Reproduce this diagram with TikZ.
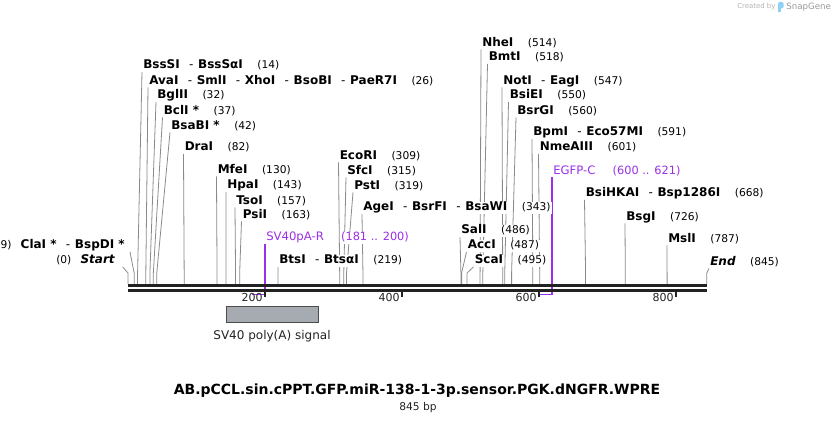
\documentclass[tikz,border=0pt]{standalone}
\usepackage{fontspec}
\setmainfont{DejaVu Sans}
\usetikzlibrary{positioning,backgrounds}
\definecolor{featpurple}{HTML}{9B30E6}
\definecolor{cutgray}{HTML}{8A8A8A}
\definecolor{bbdark}{HTML}{222222}
\definecolor{boxgray}{HTML}{A6AAB1}
\definecolor{sgblue}{HTML}{8FD1F3}
\newcommand{\enzsep}{\hspace{7pt}{\mdseries-}\hspace{3.5pt}}
% label name / cut position (bp)
\def\sitelist{bsssi/14,avai/26,bglii/32,bcli/37,bsabi/42,drai/82,mfei/130,hpai/143,tsoi/157,psii/163,btsi/219,ecori/309,sfci/315,psti/319,agei/343,sali/486,acci/487,scai/495,nhei/514,bmti/518,noti/547,bsiei/550,bsrgi/560,bpmi/591,nmeaiii/601,bsihkai/668,bsgi/726,msli/787,endlbl/845}

\begin{document}
\begin{tikzpicture}[x=0.75pt, y=-0.75pt,
  enz/.style={font=\fontsize{9}{10}\selectfont\bfseries, fill=white, inner xsep=0.75pt, inner ysep=0pt, text height=7pt, text depth=2pt, anchor=base west},
  num/.style={font=\fontsize{8}{10}\selectfont, fill=white, inner xsep=0.75pt, inner ysep=0pt, text height=7pt, text depth=2pt},
  featlbl/.style={enz, font=\fontsize{8.75}{10}\selectfont, text=featpurple},
  featnum/.style={num, font=\fontsize{8.5}{10}\selectfont, text=featpurple},
  cut/.style={draw=cutgray, line width=0.6pt},
  feat/.style={draw=featpurple, line width=1.2pt},
  backbone/.style={draw=bbdark, line width=2.2pt},
  tickmark/.style={draw=bbdark, line width=1.3pt},
  ticklbl/.style={font=\fontsize{8.25}{10}\selectfont, text=bbdark, inner sep=0pt, anchor=base east},
  polya/.style={draw=black!70, fill=boxgray, line width=0.75pt, minimum width=69pt, minimum height=12pt, inner sep=0pt}
]
\useasboundingbox (0,0) rectangle (835,423);

% cut sites just above the backbone
\foreach \p in {0,9,14,26,32,37,42,82,130,143,157,163,219,309,315,319,343,486,487,495,514,518,547,550,560,591,601,668,726,787,845}
  \coordinate (s\p) at ({128+0.685*\p},273);
\coordinate (bb) at (128,284);
\coordinate (f181) at ({128+0.685*181},294.5);
\coordinate (f600) at ({128+0.685*600},294.5);

% backbone and ruler
\draw[backbone] (128,285.5) -- (707,285.5);
\draw[backbone, line width=2pt] (128,290.3) -- (707,290.3);
\foreach \t in {200,400,600,800} {
  \draw[tickmark] ({128+0.685*\t},291) -- ({128+0.685*\t},297.5);
  \node[ticklbl] (t\t) at ({126+0.685*\t},301.5) {\t};
}

% enzymes
\node[enz] (bsssi) at (142,69) {BssSI\enzsep BssSαI};
\node[enz] (avai) at (148,84.5) {AvaI\enzsep SmlI\enzsep XhoI\enzsep BsoBI\enzsep PaeR7I};
\node[enz] (bglii) at (156,99) {BglII};
\node[enz] (bcli) at (162.5,114.5) {BclI *};
\node[enz] (bsabi) at (170,129.5) {BsaBI *};
\node[enz] (drai) at (183.5,151) {DraI};
\node[enz] (mfei) at (216.5,173.5) {MfeI};
\node[enz] (hpai) at (226,189) {HpaI};
\node[enz] (tsoi) at (235,204.5) {TsoI};
\node[enz] (psii) at (241.5,218.5) {PsiI};
\node[enz] (btsi) at (278,264) {BtsI\enzsep BtsαI};
\node[enz] (ecori) at (338.5,159.5) {EcoRI};
\node[enz] (sfci) at (346,174.5) {SfcI};
\node[enz] (psti) at (353,189.5) {PstI};
\node[enz] (agei) at (362,211) {AgeI\enzsep BsrFI\enzsep BsaWI};
\node[enz] (sali) at (460,234) {SalI};
\node[enz] (acci) at (466.5,249) {AccI};
\node[enz] (scai) at (473.5,264) {ScaI};
\node[enz] (nhei) at (481,46.5) {NheI};
\node[enz] (bmti) at (487.5,61) {BmtI};
\node[enz] (noti) at (502,84.5) {NotI\enzsep EagI};
\node[enz] (bsiei) at (508.5,99) {BsiEI};
\node[enz] (bsrgi) at (516,114.5) {BsrGI};
\node[enz] (bpmi) at (532,136) {BpmI\enzsep Eco57MI};
\node[enz] (nmeaiii) at (538.5,151) {NmeAIII};
\node[enz] (bsihkai) at (584.5,197) {BsiHKAI\enzsep Bsp1286I};
\node[enz] (bsgi) at (625,220.5) {BsgI};
\node[enz] (msli) at (667,242.5) {MslI};
\node[enz] (endlbl) at (709,265.5) {\itshape End};
\foreach \n/\v in \sitelist
  \node[num, right=9pt of \n] (\n-n) {(\v)};

\node[enz, anchor=base east] (startlbl) at (116,264) {\itshape Start};
\node[num, left=5pt of startlbl] (startlbl-n) {(0)};
\node[enz, anchor=base east] (clai) at (126,249) {ClaI *\enzsep BspDI *};
\node[num, left=5pt of clai] (clai-n) {(9)};

% features
\node[featlbl] (sv40par) at (265,241) {SV40pA-R};
\node[featnum, right=11pt of sv40par] (sv40par-n) {(181 .. 200)};
\node[featlbl] (egfpc) at (552,174.5) {EGFP-C};
\node[featnum, right=11pt of egfpc] (egfpc-n) {(600 .. 621)};

\node[polya] (polya) at (272,315) {};
\node[below=5pt of polya, inner sep=0pt, font=\fontsize{9}{11}\selectfont, text=bbdark] (polyalbl) {SV40 poly(A) signal};

\node[font=\fontsize{10.5}{12}\selectfont\bfseries] (title) at (417,391) {AB.pCCL.sin.cPPT.GFP.miR-138-1-3p.sensor.PGK.dNGFR.WPRE};
\node[font=\fontsize{8}{10}\selectfont, text=bbdark] (size) at (418,408) {845 bp};

% watermark
\node[anchor=west, inner sep=0pt, font=\fontsize{5.2}{6}\selectfont, text=black!30] (cby) at (737,7) {Created by};
\fill[sgblue, rounded corners=1pt] (778,2) rectangle (783.5,8.5);
\fill[sgblue] (778,6) rectangle (780.5,12.5);
\node[anchor=west, inner sep=0pt, font=\fontsize{6.5}{8}\selectfont, text=black!40] (sgname) at (786,7) {SnapGene};

\begin{scope}[on background layer]
  \draw[feat] (sv40par.south west) |- (f181);
  \draw[feat] (egfpc.south west) |- (f600);
  \foreach \n/\v in \sitelist
    \draw[cut] (\n.south west) -- (s\v) -- (s\v |- bb);
  \draw[cut] ([xshift=5pt]startlbl.south east) -- (s0) -- (s0 |- bb);
  \draw[cut] ([xshift=3pt]clai.south east) -- (s9) -- (s9 |- bb);
\end{scope}
\end{tikzpicture}
\end{document}
